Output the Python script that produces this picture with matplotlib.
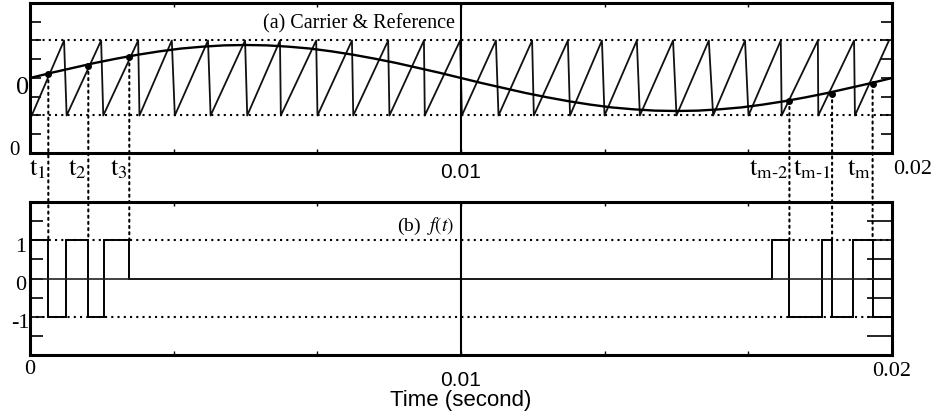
import numpy as np
import matplotlib
matplotlib.use('Agg')
import matplotlib.pyplot as plt
from matplotlib.patches import ConnectionPatch

plt.rcParams['font.family'] = ['Liberation Serif', 'DejaVu Serif']
plt.rcParams['mathtext.fontset'] = 'stix'

# carrier sawtooth, times in ms
carrier_low_t = [0.04, 0.85, 1.70, 2.54, 3.36, 4.19, 5.04, 5.82, 6.67, 7.50, 8.34, 9.16,
                 10.02, 10.87, 11.69, 12.53, 13.33, 14.15, 15.00, 15.85, 16.67, 17.44, 18.29, 19.14]
carrier_peak_t = [0.79, 1.65, 2.51, 3.29, 4.13, 4.99, 5.80, 6.64, 7.47, 8.31, 9.14, 9.98,
                  10.81, 11.65, 12.48, 13.27, 14.08, 14.92, 15.75, 16.59, 17.42, 18.28, 19.12, 19.93]
carrier_low, carrier_high = 2.0, 6.0

# reference curve, sampled every 0.5 ms
ref_t = [0.5 * k for k in range(41)]
ref_v = [4.00, 4.28, 4.54, 4.80, 5.03, 5.24, 5.42, 5.57, 5.67, 5.74, 5.76, 5.74, 5.67, 5.57,
         5.42, 5.24, 5.03, 4.80, 4.54, 4.28, 4.00, 3.72, 3.46, 3.20, 2.97, 2.76, 2.58, 2.43,
         2.33, 2.26, 2.24, 2.26, 2.33, 2.43, 2.58, 2.76, 2.97, 3.20, 3.46, 3.72, 4.00]

# crossing points t1, t2, t3 ... tm-2, tm-1, tm
cross_t = [0.425, 1.353, 2.304, 17.62, 18.61, 19.55]
cross_v = [4.21, 4.66, 5.11, 2.79, 3.15, 3.68]
cross_lbl = [r'$\mathrm{t}_{1}$', r'$\mathrm{t}_{2}$', r'$\mathrm{t}_{3}$',
             r'$\mathrm{t}_{\mathrm{m\text{-}2}}$', r'$\mathrm{t}_{\mathrm{m\text{-}1}}$', r'$\mathrm{t}_{\mathrm{m}}$']

# f(t) switching function
f_edges = [0, 0.425, 0.835, 1.353, 1.717, 2.304, 17.21, 17.62, 18.37, 18.61, 19.10, 19.55, 20.0]
f_levels = [1, -1, 1, -1, 1, 0, 1, -1, 1, -1, 1, -1]

ms = 1e-3
W, H = 937, 419
fig = plt.figure(figsize=(W/100, H/100), dpi=100)
ax1 = fig.add_axes([30/W, 1-153/H, 862/W, 150/H])
ax2 = fig.add_axes([30/W, 1-355/H, 862/W, 153/H])

dot = (0, (1, 2))

# ---- (a) carrier & reference
ct, cv = [], []
for lo, pk in zip(carrier_low_t, carrier_peak_t):
    ct += [lo, pk]
    cv += [carrier_low, carrier_high]
ax1.plot(np.array(ct)*ms, cv, color='#111111', lw=1.3)
ax1.plot(np.array(ref_t)*ms, ref_v, color='black', lw=1.7)
ax1.plot(np.array(cross_t)*ms, cross_v, 'o', color='black', ms=4)
ax1.axhline(carrier_high, color='black', lw=1.5, ls=dot)
ax1.axhline(carrier_low, color='black', lw=1.5, ls=dot)
ax1.axvline(0.01, color='black', lw=1.5)
ax1.set_xlim(0, 0.02)
ax1.set_ylim(0, 8)
ax1.set_yticks(np.arange(0, 9, 1))
ax1.set_xticks(np.arange(0, 0.0201, 0.02/6))
ax1.tick_params(axis='y', direction='in', length=8, width=1.2, left=True, right=True,
                labelleft=False)
ax1.tick_params(axis='x', direction='in', length=3, width=1, top=True, bottom=True,
                labelbottom=False)
ax1.text(0.00986, 6.88, '(a) Carrier & Reference', ha='right', va='center', fontsize=14.5)
ax1.text(-0.00017, 3.44, '0', ha='center', va='center', fontsize=19)
ax1.text(-0.00035, 0.12, '0', ha='center', va='center', fontsize=15)
xt = ax1.get_xaxis_transform()
for t, lbl in zip(cross_t, cross_lbl):
    ax1.text(t*ms - 0.00004, -0.15, lbl, transform=xt, ha='right', va='baseline', fontsize=19)
ax1.text(0.01, -0.127, '0.01', transform=xt, ha='center', va='center', fontsize=15,
         family='Liberation Sans')
ax1.text(0.02049, -0.113, '0.02', transform=xt, ha='center', va='center', fontsize=16)

# ---- (b) f(t)
ax2.stairs(f_levels, np.array(f_edges)*ms, baseline=None, color='black', lw=1.4)
ax2.axhline(0, color='#222222', lw=1.2)
ax2.axhline(1, color='black', lw=1.5, ls=dot)
ax2.axhline(-1, color='black', lw=1.5, ls=dot)
ax2.axvline(0.01, color='black', lw=1.5)
ax2.set_xlim(0, 0.02)
ax2.set_ylim(-2, 2)
ax2.set_yticks(np.arange(-2, 2.01, 0.5))
ax2.set_xticks(np.arange(0, 0.0201, 0.02/6))
ax2.tick_params(axis='y', which='both', direction='in', length=9, width=1.2, left=True,
                labelleft=False)
ax2.tick_params(axis='y', right=True)
for tk in ax2.yaxis.get_major_ticks():
    tk.tick2line.set_marker(matplotlib.lines.TICKLEFT)
    tk.tick2line.set_markersize(18)
    tk.tick2line.set_markeredgewidth(1.2)
ax2.tick_params(axis='x', direction='in', length=3, width=1, top=True, bottom=True,
                labelbottom=False)
for v, s in zip([1, 0, -1], ['1', '0', '-1']):
    ax2.text(-0.00022, v - 0.18, s, ha='center', va='center', fontsize=16)
ax2.text(0.00985, 1.35, r'(b)  $f(t)$', ha='right', va='center', fontsize=14)
xt2 = ax2.get_xaxis_transform()
ax2.text(0.0, -0.098, '0', transform=xt2, ha='center', va='center', fontsize=16)
ax2.text(0.02, -0.11, '0.02', transform=xt2, ha='center', va='center', fontsize=16)
ax2.text(0.01, -0.165, '0.01', transform=xt2, ha='center', va='center', fontsize=15,
         family='Liberation Sans')
ax2.text(0.01, -0.30, 'Time (second)', transform=xt2, ha='center', va='center', fontsize=16,
         family='Liberation Sans')

for ax in (ax1, ax2):
    for sp in ax.spines.values():
        sp.set_linewidth(2.2)

# dotted drop lines from crossing points to the f(t) plot
for t, v in zip(cross_t, cross_v):
    cp = ConnectionPatch(xyA=(t*ms, v), coordsA=ax1.transData,
                         xyB=(t*ms, 1), coordsB=ax2.transData,
                         color='black', lw=1.5, ls=dot)
    fig.add_artist(cp)

fig.savefig('out.png', dpi=100)
